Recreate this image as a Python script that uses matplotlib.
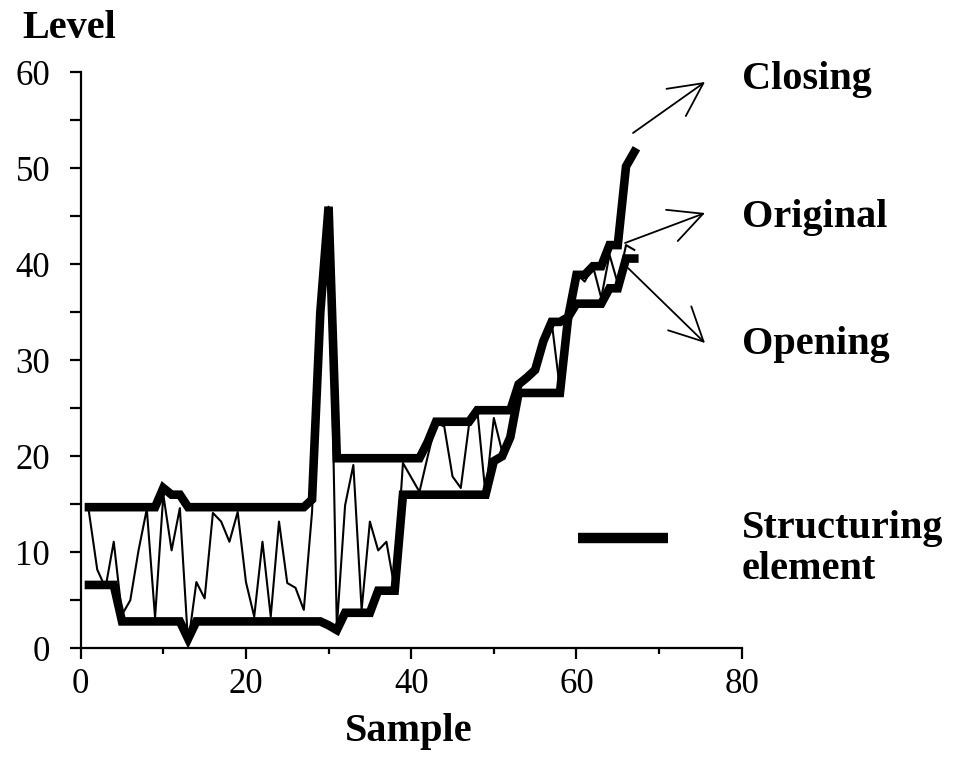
import matplotlib
matplotlib.use("Agg")
import matplotlib.pyplot as plt
from matplotlib.lines import Line2D
from matplotlib.patches import FancyArrowPatch
from matplotlib.ticker import MultipleLocator

plt.rcParams["font.family"] = ["Liberation Serif", "DejaVu Serif"]

# sample index 1..67
samples = list(range(1, 68))

original = [
    14.2, 8.2, 6.3, 11.1, 3.5, 5.0, 10.2, 14.5, 3.2, 16.0,
    10.2, 14.6, 0.5, 6.9, 5.2, 14.1, 13.2, 11.1, 14.2, 6.9,
    3.3, 11.1, 3.3, 13.2, 6.8, 6.3, 4.0, 14.2, 34.9, 46.0,
    2.2, 14.9, 19.1, 4.0, 13.2, 10.2, 11.1, 6.2, 19.3, 17.8,
    16.3, 20.0, 23.5, 23.1, 17.9, 16.7, 23.3, 24.8, 16.0, 24.0,
    20.5, 22.0, 27.0, 28.0, 28.7, 31.5, 34.0, 27.0, 34.5, 39.0,
    38.2, 39.8, 36.5, 41.0, 38.0, 42.0, 41.5,
]

closing = [
    14.7, 14.7, 14.7, 14.7, 14.7, 14.7, 14.7, 14.7, 14.7, 16.7,
    16.0, 16.0, 14.7, 14.7, 14.7, 14.7, 14.7, 14.7, 14.7, 14.7,
    14.7, 14.7, 14.7, 14.7, 14.7, 14.7, 14.7, 15.5, 35.0, 46.0,
    19.8, 19.8, 19.8, 19.8, 19.8, 19.8, 19.8, 19.8, 19.8, 19.8,
    19.8, 21.5, 23.6, 23.6, 23.6, 23.6, 23.6, 24.8, 24.8, 24.8,
    24.8, 24.8, 27.5, 28.2, 29.0, 32.0, 34.0, 34.0, 34.5, 38.9,
    38.9, 39.8, 39.8, 42.0, 42.0, 50.2, 51.7,
]

opening = [
    6.6, 6.6, 6.6, 6.6, 2.8, 2.8, 2.8, 2.8, 2.8, 2.8,
    2.8, 2.8, 1.0, 2.8, 2.8, 2.8, 2.8, 2.8, 2.8, 2.8,
    2.8, 2.8, 2.8, 2.8, 2.8, 2.8, 2.8, 2.8, 2.8, 2.4,
    1.9, 3.7, 3.7, 3.7, 3.7, 6.0, 6.0, 6.0, 16.0, 16.0,
    16.0, 16.0, 16.0, 16.0, 16.0, 16.0, 16.0, 16.0, 16.0, 19.5,
    20.0, 22.0, 26.6, 26.6, 26.6, 26.6, 26.6, 26.6, 34.5, 35.9,
    35.9, 35.9, 35.9, 37.5, 37.5, 40.6, 40.6,
]

W, H = 958, 761


def fx(px):
    return px / W


def fy(py):
    return 1 - py / H


fig = plt.figure(figsize=(W / 100, H / 100), dpi=100)
ax = fig.add_axes([fx(80.7), fy(648.3), fx(741.7) - fx(80.7), fy(72.3) - fy(648.3)])

ax.plot(samples, closing, color="black", lw=6.2, solid_joinstyle="miter", zorder=2)
ax.plot(samples, opening, color="black", lw=6.2, solid_joinstyle="miter", zorder=2)
ax.plot(samples, original, color="black", lw=1.5, zorder=3)

ax.set_xlim(0, 80)
ax.set_ylim(0, 60)
for side in ("top", "right"):
    ax.spines[side].set_visible(False)
for side in ("left", "bottom"):
    ax.spines[side].set_linewidth(1.6)

ax.xaxis.set_major_locator(MultipleLocator(20))
ax.xaxis.set_minor_locator(MultipleLocator(10))
ax.yaxis.set_major_locator(MultipleLocator(10))
ax.yaxis.set_minor_locator(MultipleLocator(5))
ax.tick_params(axis="x", which="major", length=8, width=1.6, labelsize=25, pad=6)
ax.tick_params(axis="x", which="minor", length=4, width=1.6)
ax.tick_params(axis="y", which="both", length=8, width=1.6, labelsize=25, pad=14)

bold = dict(fontsize=29, fontweight="bold", color="black")
fig.text(fx(22), fy(29), "Level", ha="left", va="center", **bold)
fig.text(fx(409), fy(731), "Sample", ha="center", va="center", **bold)
fig.text(fx(742), fy(80), "Closing", ha="left", va="center", **bold)
fig.text(fx(742), fy(218), "Original", ha="left", va="center", **bold)
fig.text(fx(742), fy(345), "Opening", ha="left", va="center", **bold)
fig.text(fx(742), fy(549), "Structuring\nelement", ha="left", va="center",
         linespacing=1.15, **bold)

# structuring element legend key
fig.add_artist(Line2D([fx(578), fx(668)], [fy(538), fy(538)], color="black", lw=7.5,
                      solid_capstyle="butt"))

for (x0, y0), (x1, y1) in [((633, 133), (705, 82)),
                           ((625, 243), (705, 213)),
                           ((628, 268), (705, 343))]:
    fig.add_artist(FancyArrowPatch(
        (fx(x0), fy(y0)), (fx(x1), fy(y1)), transform=fig.transFigure,
        arrowstyle="->,head_length=0.8,head_width=0.4", mutation_scale=30,
        color="black", lw=1.3, shrinkA=0, shrinkB=0))

fig.savefig("out.png", dpi=100)
